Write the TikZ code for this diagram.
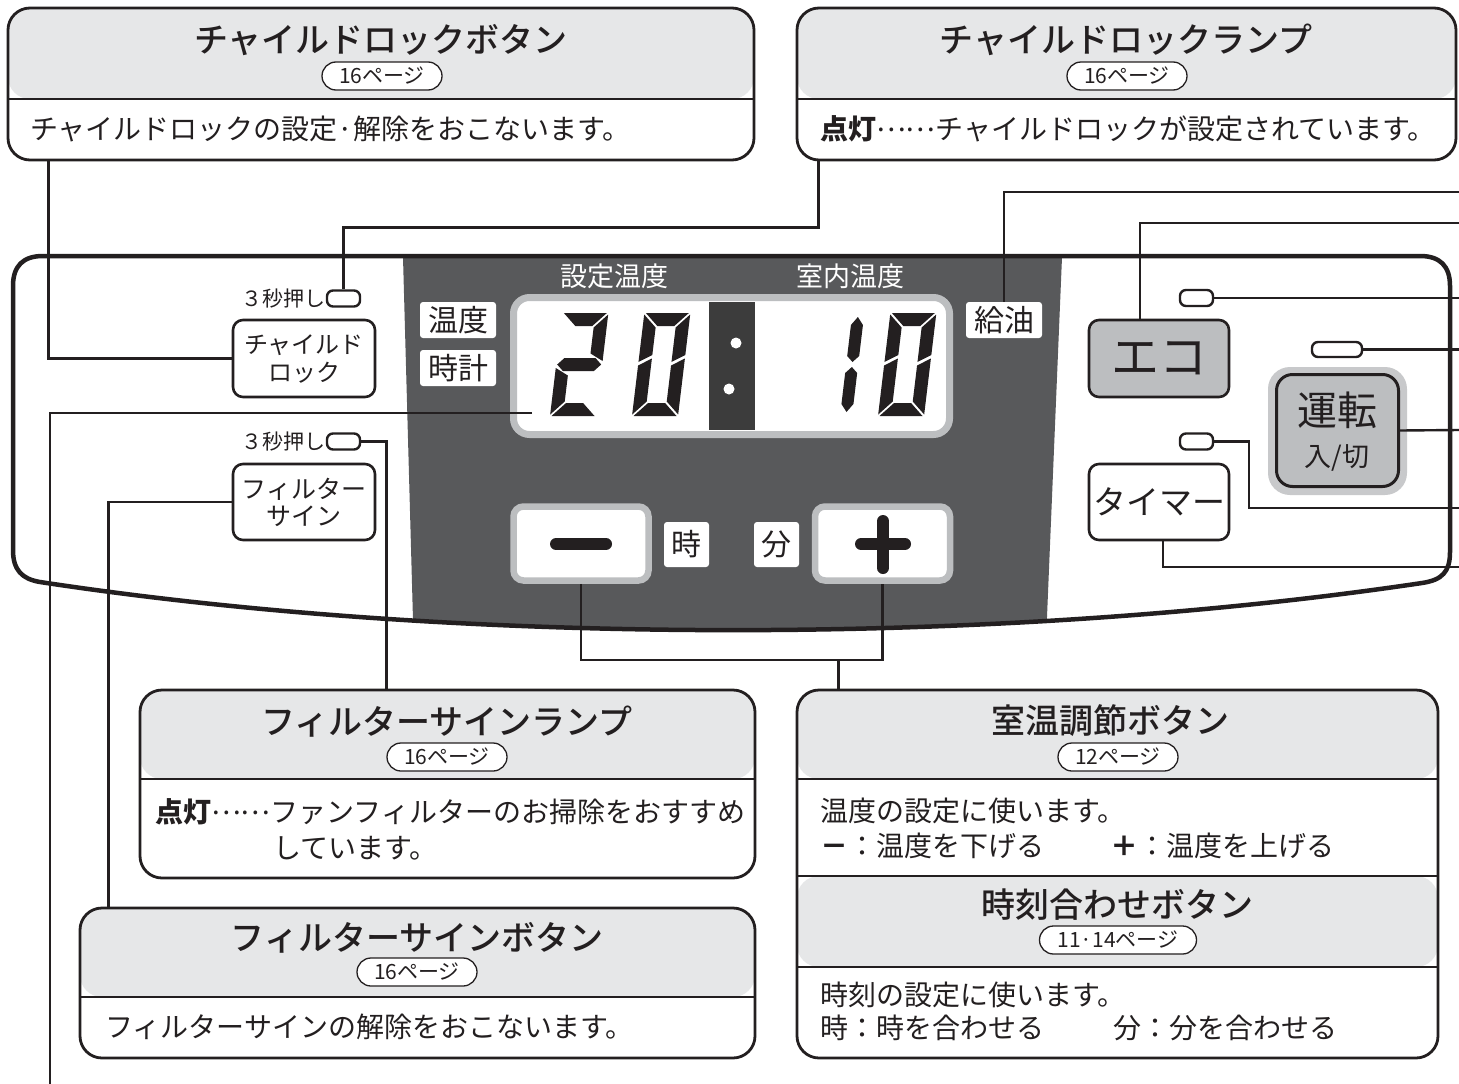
\documentclass[tikz,border=0pt]{standalone}
\usepackage{fontspec}
\setmainfont{Noto Sans CJK JP}
\newfontfamily\medfont{Noto Sans CJK JP Medium}
\definecolor{ink}{HTML}{231F20}
\definecolor{panelgrey}{HTML}{58595B}
\definecolor{hdrgrey}{HTML}{E6E7E8}
\definecolor{framegrey}{HTML}{BCBEC0}
\definecolor{sepdark}{HTML}{3C3C3C}
\definecolor{btngrey}{HTML}{BCBEC0}
\definecolor{halo}{HTML}{C8C9CB}
\newcommand\segA{\fill[ink] (1.5,103) -- (44.5,103) -- (31.5,90) -- (14.5,90) -- cycle;}
\newcommand\segD{\fill[ink] (1.5,0) -- (44.5,0) -- (31.5,13) -- (14.5,13) -- cycle;}
\newcommand\segG{\fill[ink] (1,51.5) -- (7.5,58) -- (38.5,58) -- (45,51.5) -- (38.5,45) -- (7.5,45) -- cycle;}
% segments for a digit with a middle bar
\newcommand\segB{\fill[ink] (46,101.5) -- (33,88.5) -- (33,62.5) -- (46,55) -- cycle;}
\newcommand\segE{\fill[ink] (0,1.5) -- (13,14.5) -- (13,40.5) -- (0,48) -- cycle;}
% segments for a digit without a middle bar
\newcommand\segFz{\fill[ink] (0,101.5) -- (13,88.5) -- (13,61) -- (0,54) -- cycle;}
\newcommand\segEz{\fill[ink] (0,1.5) -- (13,14.5) -- (13,57.5) -- (0,50.5) -- cycle;}
\newcommand\segBz{\fill[ink] (46,101.5) -- (33,88.5) -- (33,54) -- (46,61) -- cycle;}
\newcommand\segCz{\fill[ink] (46,1.5) -- (33,14.5) -- (33,50.5) -- (46,57.5) -- cycle;}
\newcommand\segBi{\fill[ink] (40,99) -- (46,91) -- (46,60) -- (40,54) -- (34,60) -- (34,91) -- cycle;}
\newcommand\segCi{\fill[ink] (40,49) -- (46,43) -- (46,12) -- (40,4) -- (34,12) -- (34,43) -- cycle;}
\newcommand\lcddigit[2]{\begin{scope}[shift={#1},x=1pt,y=1pt,xslant=0.12]#2\end{scope}}
\newcommand\midleader{\raisebox{8pt}{……}}
\begin{document}
\begin{tikzpicture}[x=1pt,y=-1pt,
  conn/.style={draw=ink, line width=2.4pt},
  infobox/.style={draw=ink, line width=2.8pt, rounded corners=22pt, fill=white, inner sep=0pt},
  hdr/.style={path picture={\fill[hdrgrey] (path picture bounding box.north west) rectangle ([yshift=-#1pt]path picture bounding box.north east);
     \draw[ink, line width=1.3pt] ([yshift=-#1pt]path picture bounding box.north west) -- ([yshift=-#1pt]path picture bounding box.north east);}},
  title/.style={text=ink, font=\fontsize{34}{40}\selectfont\medfont, inner sep=0pt},
  body/.style={text=ink, font=\fontsize{28}{32}\selectfont, inner sep=0pt, anchor=west},
  pill/.style={draw=ink, line width=1.3pt, fill=white, rounded corners=14pt, minimum height=28pt, minimum width=120pt, inner sep=0pt, text=ink, font=\fontsize{21}{24}\selectfont},
  btn/.style={draw=ink, line width=2.6pt, fill=white, rounded corners=10pt, inner sep=0pt, text=ink, align=center},
  lamp/.style={draw=ink, line width=2.4pt, fill=white, rounded corners=6pt, inner sep=0pt, minimum width=33pt, minimum height=16pt},
  lbl/.style={fill=white, rounded corners=3pt, inner sep=0pt, text=ink, font=\fontsize{30}{34}\selectfont},
  paneltxt/.style={text=white, font=\fontsize{27}{32}\selectfont, inner sep=0pt},
  pmbtn/.style={draw=framegrey, line width=6.5pt, fill=white, rounded corners=10pt, minimum width=135pt, minimum height=74pt, inner sep=0pt},
  small/.style={text=ink, font=\fontsize{21}{24}\selectfont, inner sep=0pt}
]
\useasboundingbox (0,0) rectangle (1459,1084);

% ---------- panel ----------
\fill[white] (13,286) .. controls (13,266) and (23,256) .. (43,256) -- (1420,256) .. controls (1440,256) and (1450,266) .. (1450,286) -- (1450,552) .. controls (1450,572) and (1442,580) .. (1422,583) .. controls (1000,646) and (460,646) .. (40,582) .. controls (22,579) and (13,570) .. (13,550) -- cycle;
\begin{scope}
\clip (13,286) .. controls (13,266) and (23,256) .. (43,256) -- (1420,256) .. controls (1440,256) and (1450,266) .. (1450,286) -- (1450,552) .. controls (1450,572) and (1442,580) .. (1422,583) .. controls (1000,646) and (460,646) .. (40,582) .. controls (22,579) and (13,570) .. (13,550) -- cycle;
\fill[panelgrey] (402.8,250) -- (1062.3,250) -- (1045.2,660) -- (414.1,660) -- cycle;
\end{scope}
\draw[ink, line width=4.5pt] (13,286) .. controls (13,266) and (23,256) .. (43,256) -- (1420,256) .. controls (1440,256) and (1450,266) .. (1450,286) -- (1450,552) .. controls (1450,572) and (1442,580) .. (1422,583) .. controls (1000,646) and (460,646) .. (40,582) .. controls (22,579) and (13,570) .. (13,550) -- cycle;

% ---------- display ----------
\node[draw=framegrey, line width=7pt, fill=white, rounded corners=16pt, minimum width=436pt, minimum height=137pt, inner sep=0pt] (disp) at (731.5,366) {};
\fill[sepdark] (709,302) rectangle (755,430);
\fill[white] (736,343) circle (5.5pt);
\fill[white] (729,389) circle (5.5pt);
\lcddigit{(550,416)}{\segA\segB\segG\segE\segD}
\lcddigit{(632,416)}{\segA\segBz\segCz\segD\segEz\segFz}
\lcddigit{(806,416)}{\segBi\segCi}
\lcddigit{(878,416)}{\segA\segBz\segCz\segD\segEz\segFz}
\coordinate (dispin) at (532,413);

\node[paneltxt] (lset) at (614,276) {設定温度};
\node[paneltxt] (lroom) at (850,276) {室内温度};
\node[lbl, minimum width=76pt, minimum height=36pt] (lond) at (458,320) {温度};
\node[lbl, minimum width=76pt, minimum height=36pt] (lclock) at (458,368) {時計};
\node[lbl, minimum width=76pt, minimum height=36pt] (kyuyu) at (1004,320) {給油};

% ---------- +/- buttons ----------
\node[pmbtn] (minus) at (581,543.5) {};
\node[pmbtn] (plus) at (882.5,543.5) {};
\draw[ink, line width=12pt, line cap=round] (556,544) -- (606,544);
\draw[ink, line width=12pt, line cap=round] (861,544) -- (905,544);
\draw[ink, line width=12pt, line cap=round] (883,521) -- (883,568);
\node[lbl, minimum width=45pt, minimum height=45pt] (lhour) at (686.5,544.5) {時};
\node[lbl, minimum width=45pt, minimum height=45pt] (lmin) at (776.5,544.5) {分};

% ---------- left side ----------
\node[small, anchor=east] (s1) at (326,299) {３秒押し};
\node[lamp] (clamp) at (343.5,298.5) {};
\node[btn, minimum width=142pt, minimum height=77pt, font=\fontsize{24}{28}\selectfont] (cbtn) at (304,358.5) {チャイルド\\ロック};
\node[small, anchor=east] (s2) at (326,442) {３秒押し};
\node[lamp] (flamp) at (343.5,441.5) {};
\node[btn, minimum width=142pt, minimum height=76pt, font=\fontsize{25}{27}\selectfont] (fbtn) at (304,502) {フィルター\\サイン};

% ---------- right side ----------
\node[lamp] (ecolamp) at (1196.5,298) {};
\node[btn, fill=btngrey, minimum width=140pt, minimum height=77pt, font=\fontsize{48}{52}\selectfont] (eco) at (1159,358.5) {エコ};
\node[lamp, minimum width=50pt, minimum height=15pt] (runlamp) at (1337,349.5) {};
\node[fill=halo, rounded corners=22pt, minimum width=139pt, minimum height=128pt, inner sep=0pt] (runhalo) at (1337.5,431) {};
\node[draw=ink, line width=3pt, fill=btngrey, rounded corners=16pt, minimum width=122pt, minimum height=112pt, inner sep=0pt] (runbtn) at (1337.5,430.5) {};
\node[text=ink, font=\fontsize{40}{44}\selectfont, inner sep=0pt] (runt) at (1337,410) {運転};
\node[text=ink, font=\fontsize{27}{30}\selectfont, inner sep=0pt] (runs) at (1337,458) {入/切};
\node[lamp] (tlamp) at (1196.5,441.5) {};
\node[btn, minimum width=140pt, minimum height=76pt, font=\fontsize{33}{36}\selectfont] (timer) at (1159,502) {タイマー};

\coordinate (r1) at (1459,192);
\coordinate (r2) at (1459,223);
\coordinate (r3) at (1459,298);
\coordinate (r4) at (1459,349.5);
\coordinate (r5) at (1459,430);
\coordinate (r6) at (1459,508);
\coordinate (r7) at (1459,567);
\coordinate (dispend) at (50,1084);

% ---------- info boxes ----------
\node[infobox, hdr=91, minimum width=746pt, minimum height=152pt] (cbox) at (381,84) {};
\node[title] (cboxt) at (381,40) {チャイルドロックボタン};
\node[pill] (cboxp) at (382,76) {16ページ};
\node[body] (cboxb) at (30,129) {チャイルドロックの設定·解除をおこないます。};

\node[infobox, hdr=91, minimum width=659pt, minimum height=152pt] (clbox) at (1126.5,84) {};
\node[title] (clboxt) at (1126,40) {チャイルドロックランプ};
\node[pill] (clboxp) at (1127,76) {16ページ};
\node[body] (clboxb) at (820,129) {\textbf{点灯}\midleader チャイルドロックが設定されています。};

\node[infobox, hdr=89, minimum width=615pt, minimum height=188pt] (flbox) at (447.5,784) {};
\node[title] (flboxt) at (447,722) {フィルターサインランプ};
\node[pill] (flboxp) at (447,757) {16ページ};
\node[body] (flboxb) at (155,812) {\textbf{点灯}\midleader ファンフィルターのお掃除をおすすめ};
\node[body] (flboxc) at (273,848) {しています。};

\node[infobox, hdr=89, minimum width=675pt, minimum height=150pt] (fbbox) at (417.5,983) {};
\node[title] (fbboxt) at (417,938) {フィルターサインボタン};
\node[pill] (fbboxp) at (417,972) {16ページ};
\node[body] (fbboxb) at (105,1027) {フィルターサインの解除をおこないます。};

\node[infobox, minimum width=641pt, minimum height=368pt,
  path picture={\fill[hdrgrey] (path picture bounding box.north west) rectangle ([yshift=-89pt]path picture bounding box.north east);
    \fill[hdrgrey] ([yshift=-186pt]path picture bounding box.north west) rectangle ([yshift=-277pt]path picture bounding box.north east);
    \draw[ink, line width=1.3pt] ([yshift=-89pt]path picture bounding box.north west) -- ([yshift=-89pt]path picture bounding box.north east);
    \draw[ink, line width=1.3pt] ([yshift=-186pt]path picture bounding box.north west) -- ([yshift=-186pt]path picture bounding box.north east);
    \draw[ink, line width=1.3pt] ([yshift=-277pt]path picture bounding box.north west) -- ([yshift=-277pt]path picture bounding box.north east);}] (tbox) at (1117.5,874) {};
\node[title] (tboxt) at (1110,721) {室温調節ボタン};
\node[pill] (tboxp) at (1118,757) {12ページ};
\node[body] (tboxb1) at (820,811) {温度の設定に使います。};
\node[body] (tboxb2) at (820,846) {\textbf{－}：温度を下げる};
\node[body] (tboxb3) at (1110,846) {\textbf{＋}：温度を上げる};
\node[title] (cboxt2) at (1117,905) {時刻合わせボタン};
\node[pill, minimum width=157pt] (tboxp2) at (1118,940) {11·14ページ};
\node[body] (tboxb4) at (820,995) {時刻の設定に使います。};
\node[body] (tboxb5) at (820,1028) {時：時を合わせる};
\node[body] (tboxb6) at (1113,1028) {分：分を合わせる};

% ---------- connectors ----------
\draw[conn] (cbtn.west) -| ([xshift=42pt]cbox.south west);
\draw[conn] ([xshift=23pt]clbox.south west) -- ++(0,66) -| (clamp.north);
\draw[conn] (dispin) -| (dispend);
\draw[conn] (flamp.east) -| ([xshift=248pt]flbox.north west);
\draw[conn] (fbtn.west) -| ([xshift=30pt]fbbox.north west);
\draw[conn] (minus.south) -- ++(0,76) -| (plus.south);
\draw[conn] ([xshift=43pt]tbox.north west) -- ++(0,-30);
\draw[conn] (kyuyu.north) |- (r1);
\draw[conn] ([xshift=-19pt]eco.north) |- (r2);
\draw[conn] (ecolamp.east) -- (r3);
\draw[conn] (runlamp.east) -- (r4);
\draw[conn] (runbtn.east) -- (r5);
\draw[conn] (tlamp.east) -- ++(35,0) |- (r6);
\draw[conn] ([xshift=4pt]timer.south) |- (r7);
\end{tikzpicture}
\end{document}
